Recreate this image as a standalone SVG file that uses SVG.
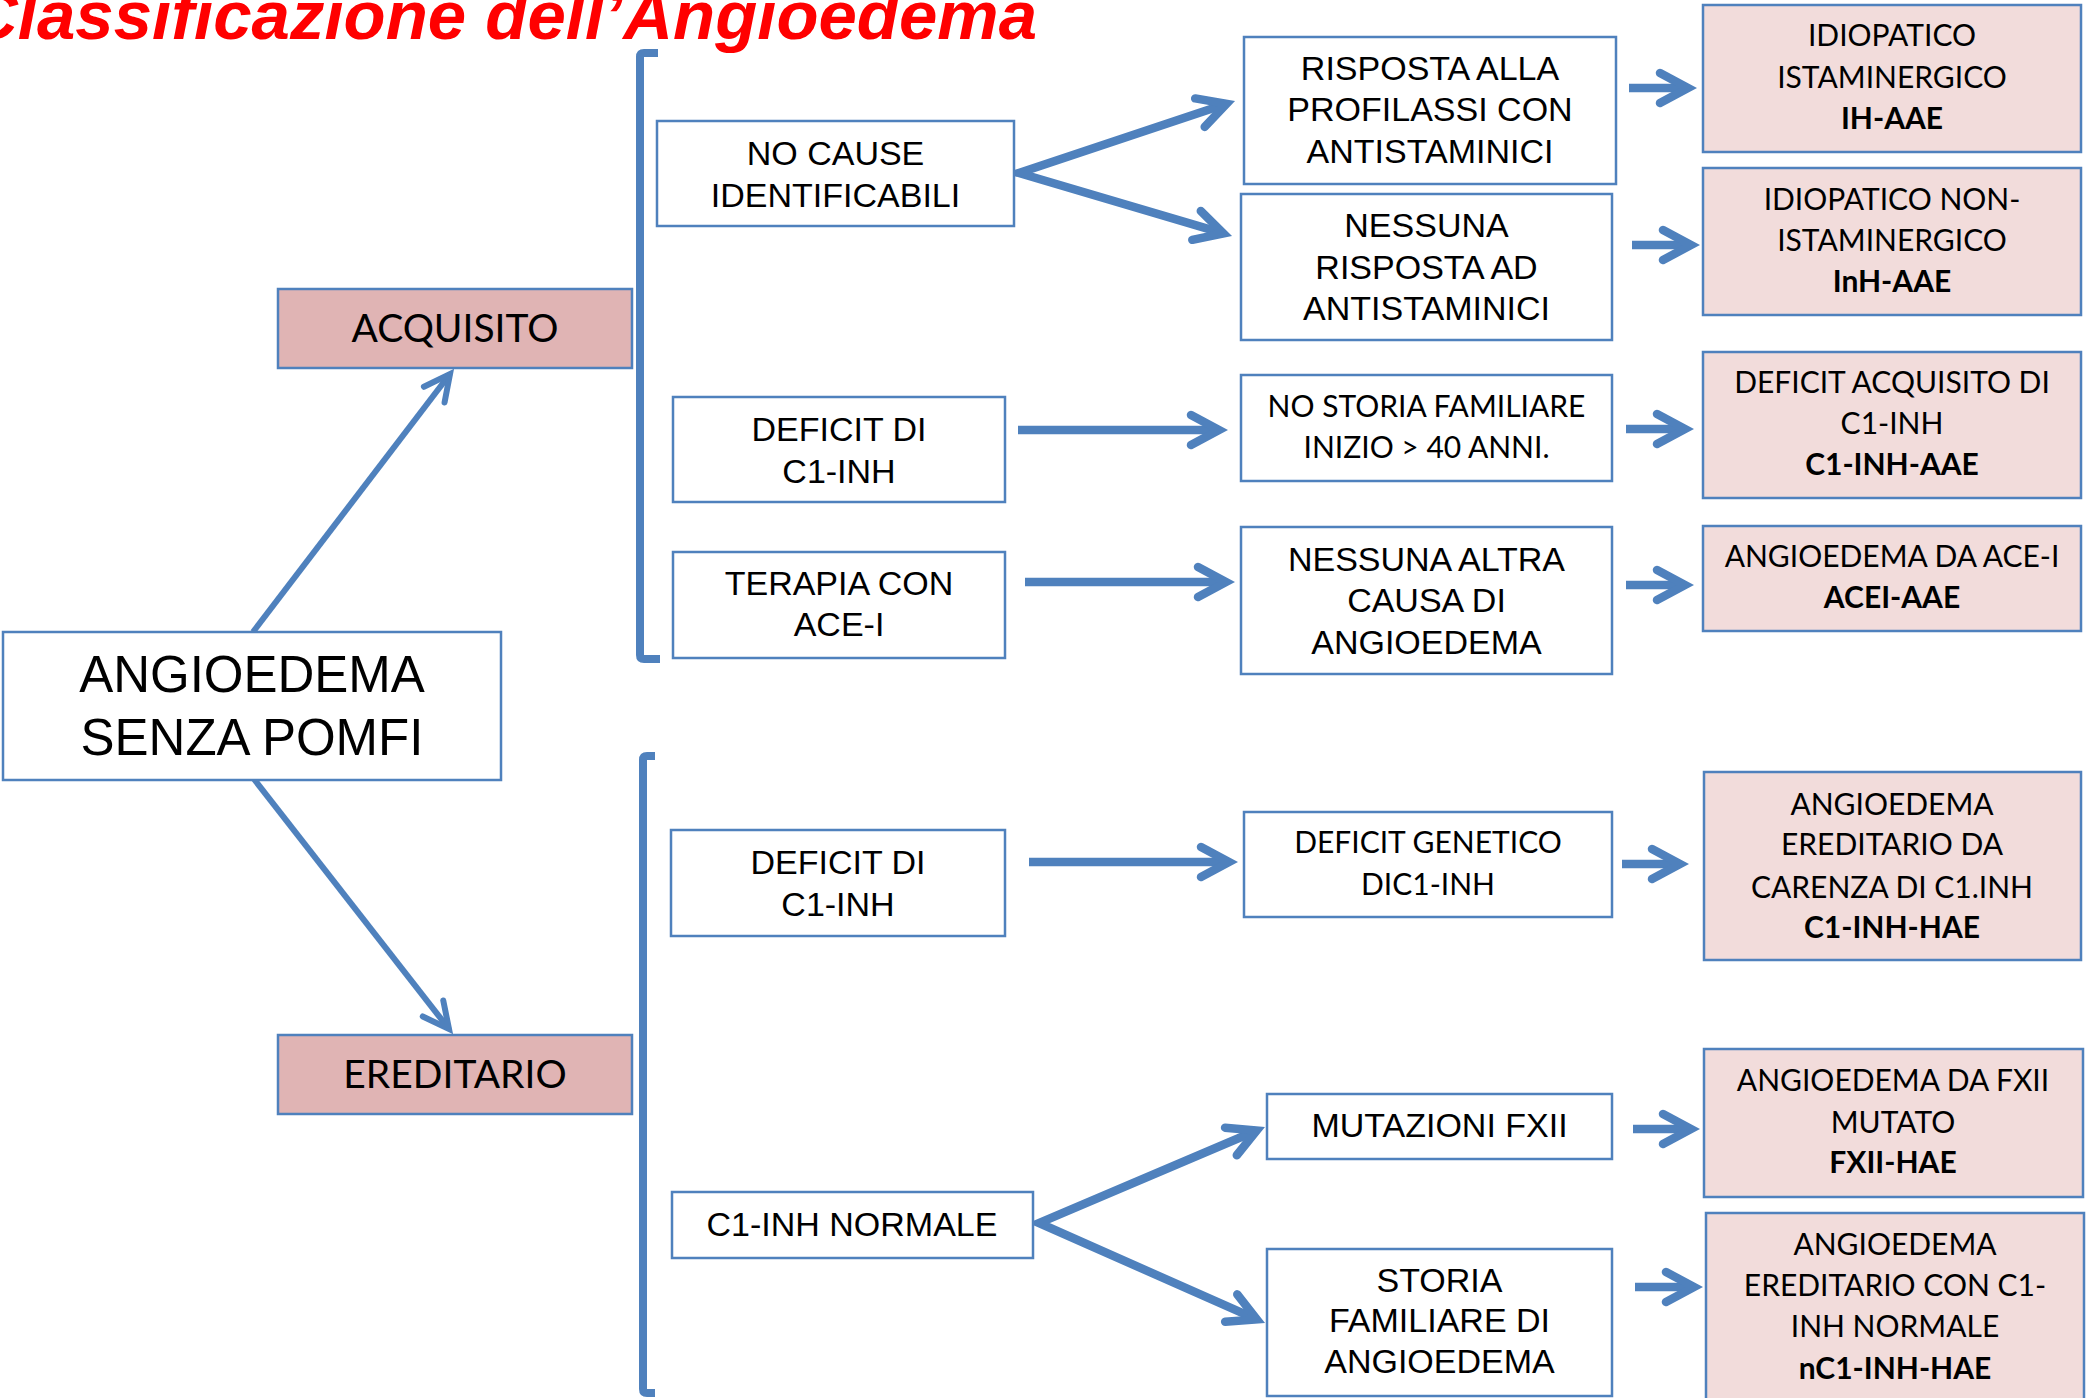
<svg xmlns="http://www.w3.org/2000/svg" width="2089" height="1398" viewBox="0 0 2089 1398">
<style>
.bx{fill:#ffffff;stroke:#4f81bd;stroke-width:2.5}
.pd{fill:#e0b4b4;stroke:#4f81bd;stroke-width:2.5}
.pl{fill:#f2dcdb;stroke:#4f81bd;stroke-width:2.5}
.a{font-family:"Liberation Sans",Arial,sans-serif;font-size:34px;fill:#000;text-anchor:middle}
.c{font-family:Lato,"Open Sans",sans-serif;font-size:30px;fill:#000;text-anchor:middle}
.big{font-size:51px}
.mid{font-size:39px}
.b{font-weight:bold}
.thick{fill:none;stroke:#4f81bd;stroke-width:8.5;stroke-linejoin:miter;stroke-linecap:butt}
.thin{fill:none;stroke:#4f81bd;stroke-width:6;stroke-linejoin:miter;stroke-linecap:butt}
.br{fill:none;stroke:#4f81bd;stroke-width:8;stroke-linejoin:round}
</style>
<defs>
<marker id="ah" markerUnits="userSpaceOnUse" orient="auto-start-reverse" refX="0" refY="0" markerWidth="1" markerHeight="1" overflow="visible">
<path d="M-28,-15 L0,0 L-28,15" fill="none" stroke="#4f81bd" stroke-width="8.5" stroke-linecap="round" stroke-linejoin="miter"/>
</marker>
<marker id="ahs" markerUnits="userSpaceOnUse" orient="auto" refX="0" refY="0" markerWidth="1" markerHeight="1" overflow="visible">
<path d="M-26,-13 L0,0 L-26,13" fill="none" stroke="#4f81bd" stroke-width="6" stroke-linecap="round" stroke-linejoin="miter"/>
</marker>
</defs>

<text x="-32" y="39" font-family="Liberation Sans,Arial,sans-serif" font-weight="bold" font-style="italic" font-size="68" fill="#ff0000" textLength="1069" lengthAdjust="spacingAndGlyphs">Classificazione dell’Angioedema</text>

<g id="connectors">
<path class="br" d="M658,53 L644,53 Q640,53 640,57 L640,655 Q640,659 644,659 L660,659"/>
<path class="br" d="M655,756 L647,756 Q643,756 643,760 L643,1389 Q643,1393 647,1393 L655,1393"/>
<line class="thin" x1="253" y1="632" x2="450" y2="374" marker-end="url(#ahs)"/>
<line class="thin" x1="254" y1="779" x2="449" y2="1029" marker-end="url(#ahs)"/>
<path class="thick" d="M1226.5,103.8 L1019,173 L1223.4,233.4" marker-start="url(#ah)" marker-end="url(#ah)"/>
<line class="thick" x1="1018" y1="430" x2="1219" y2="430" marker-end="url(#ah)"/>
<line class="thick" x1="1025" y1="582" x2="1226" y2="582" marker-end="url(#ah)"/>
<line class="thick" x1="1029" y1="862" x2="1229" y2="862" marker-end="url(#ah)"/>
<path class="thick" d="M1256.7,1130.5 L1039,1223 L1256.8,1319.4" marker-start="url(#ah)" marker-end="url(#ah)"/>
<line class="thick" x1="1629" y1="88" x2="1688" y2="88" marker-end="url(#ah)"/>
<line class="thick" x1="1632" y1="245" x2="1691" y2="245" marker-end="url(#ah)"/>
<line class="thick" x1="1626" y1="429" x2="1685" y2="429" marker-end="url(#ah)"/>
<line class="thick" x1="1626" y1="585" x2="1685" y2="585" marker-end="url(#ah)"/>
<line class="thick" x1="1622" y1="864" x2="1680" y2="864" marker-end="url(#ah)"/>
<line class="thick" x1="1633" y1="1129" x2="1691" y2="1129" marker-end="url(#ah)"/>
<line class="thick" x1="1635" y1="1287" x2="1694" y2="1287" marker-end="url(#ah)"/>
</g>

<g id="n-main">
<rect class="bx" x="3" y="632" width="498" height="148"/>
<text class="a big" x="252" y="692">ANGIOEDEMA</text>
<text class="a big" x="252" y="755">SENZA POMFI</text>
</g>
<g id="n-acquisito">
<rect class="pd" x="278" y="289" width="354" height="79"/>
<text class="c mid" x="455" y="342">ACQUISITO</text>
</g>
<g id="n-ereditario">
<rect class="pd" x="278" y="1035" width="354" height="79"/>
<text class="c mid" x="455" y="1088">EREDITARIO</text>
</g>

<g id="n-nocause">
<rect class="bx" x="657" y="121" width="357" height="105"/>
<text class="a" x="835.5" y="165">NO CAUSE</text>
<text class="a" x="835.5" y="207">IDENTIFICABILI</text>
</g>
<g id="n-deficit1">
<rect class="bx" x="673" y="397" width="332" height="105"/>
<text class="a" x="839" y="441">DEFICIT DI</text>
<text class="a" x="839" y="483">C1-INH</text>
</g>
<g id="n-terapia">
<rect class="bx" x="673" y="552" width="332" height="106"/>
<text class="a" x="839" y="595">TERAPIA CON</text>
<text class="a" x="839" y="636">ACE-I</text>
</g>
<g id="n-deficit2">
<rect class="bx" x="671" y="830" width="334" height="106"/>
<text class="a" x="838" y="874">DEFICIT DI</text>
<text class="a" x="838" y="916">C1-INH</text>
</g>
<g id="n-c1normale">
<rect class="bx" x="672" y="1192" width="361" height="66"/>
<text class="a" x="852" y="1236">C1-INH NORMALE</text>
</g>

<g id="n-risposta">
<rect class="bx" x="1244" y="37" width="372" height="147"/>
<text class="a" x="1430" y="80">RISPOSTA ALLA</text>
<text class="a" x="1430" y="121">PROFILASSI CON</text>
<text class="a" x="1430" y="163">ANTISTAMINICI</text>
</g>
<g id="n-nessuna">
<rect class="bx" x="1241" y="194" width="371" height="146"/>
<text class="a" x="1426.5" y="237">NESSUNA</text>
<text class="a" x="1426.5" y="279">RISPOSTA AD</text>
<text class="a" x="1426.5" y="320">ANTISTAMINICI</text>
</g>
<g id="n-nostoria">
<rect class="bx" x="1241" y="375" width="371" height="106"/>
<text class="c" x="1426.5" y="417">NO STORIA FAMILIARE</text>
<text class="c" x="1426.5" y="458">INIZIO &gt; 40 ANNI.</text>
</g>
<g id="n-nessunaaltra">
<rect class="bx" x="1241" y="527" width="371" height="147"/>
<text class="a" x="1426.5" y="571">NESSUNA ALTRA</text>
<text class="a" x="1426.5" y="612">CAUSA DI</text>
<text class="a" x="1426.5" y="654">ANGIOEDEMA</text>
</g>
<g id="n-defgen">
<rect class="bx" x="1244" y="812" width="368" height="105"/>
<text class="c" x="1428" y="853">DEFICIT GENETICO</text>
<text class="c" x="1428" y="895">DIC1-INH</text>
</g>
<g id="n-mutazioni">
<rect class="bx" x="1267" y="1094" width="345" height="65"/>
<text class="a" x="1439.5" y="1137">MUTAZIONI FXII</text>
</g>
<g id="n-storia">
<rect class="bx" x="1267" y="1249" width="345" height="147"/>
<text class="a" x="1439.5" y="1292">STORIA</text>
<text class="a" x="1439.5" y="1332">FAMILIARE DI</text>
<text class="a" x="1439.5" y="1373">ANGIOEDEMA</text>
</g>

<g id="n-ihaae">
<rect class="pl" x="1703" y="5" width="378" height="147"/>
<text class="c" x="1892" y="46">IDIOPATICO</text>
<text class="c" x="1892" y="88">ISTAMINERGICO</text>
<text class="c b" x="1892" y="129">IH-AAE</text>
</g>
<g id="n-inhaae">
<rect class="pl" x="1703" y="168" width="378" height="147"/>
<text class="c" x="1892" y="210">IDIOPATICO NON-</text>
<text class="c" x="1892" y="251">ISTAMINERGICO</text>
<text class="c b" x="1892" y="292">InH-AAE</text>
</g>
<g id="n-c1inhaae">
<rect class="pl" x="1703" y="352" width="378" height="146"/>
<text class="c" x="1892" y="393">DEFICIT ACQUISITO DI</text>
<text class="c" x="1892" y="434">C1-INH</text>
<text class="c b" x="1892" y="475">C1-INH-AAE</text>
</g>
<g id="n-aceiaae">
<rect class="pl" x="1703" y="526" width="378" height="105"/>
<text class="c" x="1892" y="567">ANGIOEDEMA DA ACE-I</text>
<text class="c b" x="1892" y="608">ACEI-AAE</text>
</g>
<g id="n-c1inhhae">
<rect class="pl" x="1704" y="772" width="377" height="188"/>
<text class="c" x="1892" y="815">ANGIOEDEMA</text>
<text class="c" x="1892" y="855">EREDITARIO DA</text>
<text class="c" x="1892" y="898">CARENZA DI C1.INH</text>
<text class="c b" x="1892" y="938">C1-INH-HAE</text>
</g>
<g id="n-fxiihae">
<rect class="pl" x="1704" y="1049" width="379" height="148"/>
<text class="c" x="1893" y="1091">ANGIOEDEMA DA FXII</text>
<text class="c" x="1893" y="1133">MUTATO</text>
<text class="c b" x="1893" y="1173">FXII-HAE</text>
</g>
<g id="n-nc1inhhae">
<rect class="pl" x="1706" y="1213" width="378" height="200"/>
<text class="c" x="1895" y="1255">ANGIOEDEMA</text>
<text class="c" x="1895" y="1296">EREDITARIO CON C1-</text>
<text class="c" x="1895" y="1337">INH NORMALE</text>
<text class="c b" x="1895" y="1379">nC1-INH-HAE</text>
</g>
</svg>
